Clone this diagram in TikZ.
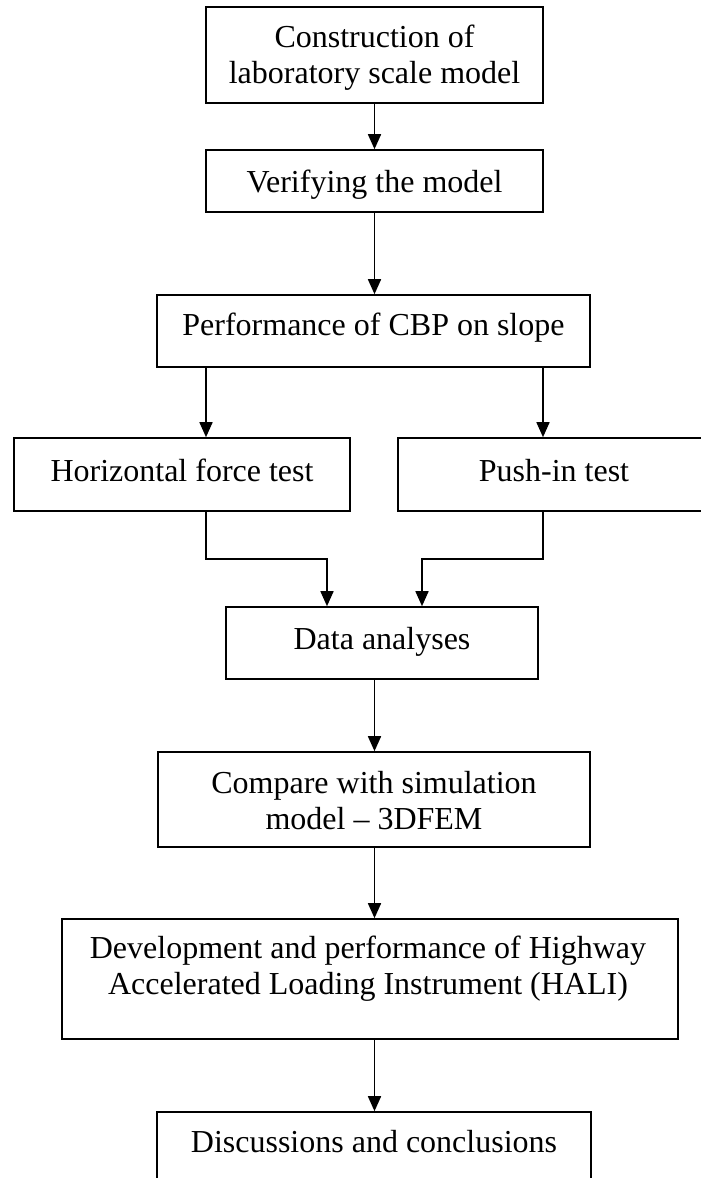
\documentclass[tikz,border=0pt]{standalone}
\usepackage{fontspec}
\setmainfont{Liberation Serif}
\usetikzlibrary{arrows.meta}
\begin{document}
\begin{tikzpicture}[x=1pt,y=-1pt,
  box/.style={draw, line width=1.6pt, inner sep=0pt},
  txt/.style={font=\fontsize{32}{36}\selectfont, align=center, inner sep=0pt, anchor=base},
  arr/.style={line width=1.6pt, -{Triangle[length=15pt,width=13pt]}}]
\useasboundingbox (0,0) rectangle (701,1178);
\clip (0,0) rectangle (701,1178);
% boxes
\node[box, minimum width=337pt, minimum height=96pt] (b1) at (374.5,55) {};
\node[box, minimum width=337pt, minimum height=62pt] (b2) at (374.5,181) {};
\node[box, minimum width=433pt, minimum height=72pt] (b3) at (373.5,331) {};
\node[box, minimum width=336pt, minimum height=73pt] (b4) at (182,474.5) {};
\node[box, minimum width=312pt, minimum height=73pt] (b5) at (554,474.5) {};
\node[box, minimum width=312pt, minimum height=72pt] (d) at (382,643) {};
\node[box, minimum width=432pt, minimum height=95pt] (c) at (374,799.5) {};
\node[box, minimum width=616pt, minimum height=120pt] (h) at (370,979) {};
\node[box, minimum width=434pt, minimum height=90pt] (f) at (374,1157) {};
% texts (base anchor = baseline of last line)
\node[txt] (t1) at (374.5,83) {Construction of\\laboratory scale model};
\node[txt] (t2) at (374.5,192) {Verifying the model};
\node[txt] (t3) at (373.5,335) {Performance of CBP on slope};
\node[txt] (t4) at (182,481) {Horizontal force test};
\node[txt] (t5) at (554,481) {Push-in test};
\node[txt] (td) at (382,649) {Data analyses};
\node[txt] (tc) at (374,829) {Compare with simulation\\model – 3DFEM};
\node[txt] (th) at (368,994) {Development and performance of Highway\\Accelerated Loading Instrument (HALI)};
\node[txt] (tf) at (374,1152) {Discussions and conclusions};
% helper coordinates
\coordinate (xm) at (374.5,0);
\coordinate (xl) at (206,0);
\coordinate (xr) at (543,0);
\coordinate (xdl) at (327,0);
\coordinate (xdr) at (422,0);
\coordinate (yj) at (0,559);
% connectors
\draw[arr] (xm |- b1.south) -- (xm |- b2.north);
\draw[arr] (xm |- b2.south) -- (xm |- b3.north);
\draw[arr] (xl |- b3.south) -- (xl |- b4.north);
\draw[arr] (xr |- b3.south) -- (xr |- b5.north);
\draw[arr] (xl |- b4.south) -- (xl |- yj) -- (xdl |- yj) -- (xdl |- d.north);
\draw[arr] (xr |- b5.south) -- (xr |- yj) -- (xdr |- yj) -- (xdr |- d.north);
\draw[arr] (xm |- d.south) -- (xm |- c.north);
\draw[arr] (xm |- c.south) -- (xm |- h.north);
\draw[arr] (xm |- h.south) -- (xm |- f.north);
\end{tikzpicture}
\end{document}
